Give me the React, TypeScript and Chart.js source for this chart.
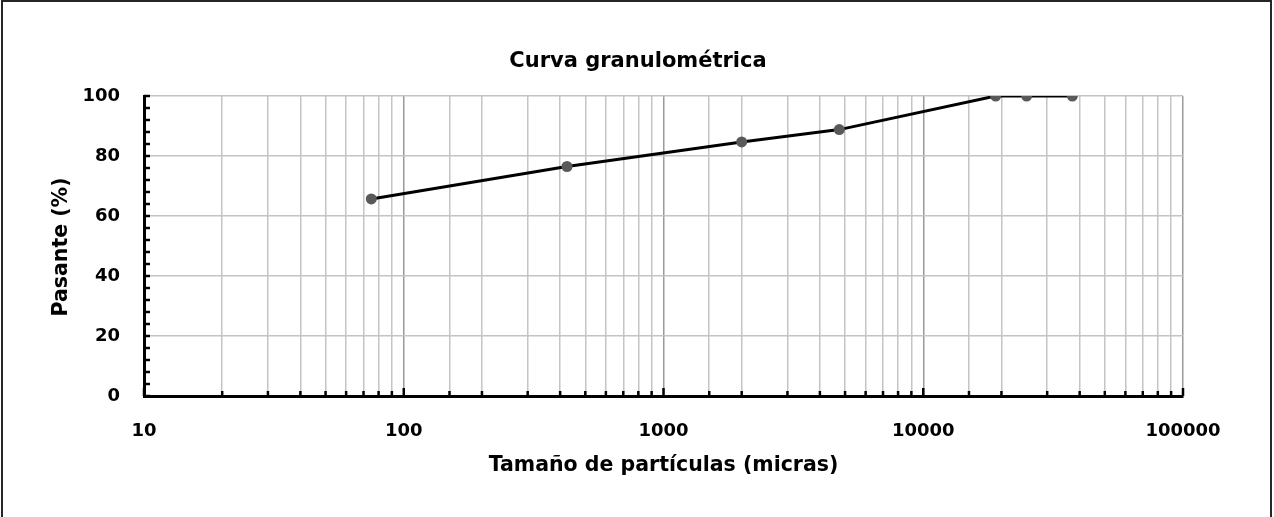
import React, { useEffect, useRef } from "react";
import { Chart, registerables } from "chart.js";

Chart.register(...registerables);

// ---- data ----
const sizes = [75, 425, 2000, 4750, 19000, 25000, 37500];
const passing = [65.7, 76.5, 84.7, 88.8, 100, 100, 100];
const xDecades = [10, 100, 1000, 10000, 100000];
const yTickValues = [0, 20, 40, 60, 80, 100];
const chartTitle = "Curva granulométrica";
const xAxisTitle = "Tamaño de partículas (micras)";
const yAxisTitle = "Pasante (%)";

const FONT = '"DejaVu Sans", Verdana, sans-serif';
const isDecade = (v: number) => xDecades.includes(Math.round(v));

const decorPlugin = {
  id: "decor",
  beforeDraw(chart: any) {
    const ctx = chart.ctx;
    ctx.save();
    ctx.fillStyle = "#ffffff";
    ctx.fillRect(0, 0, chart.width, chart.height);
    ctx.strokeStyle = "#262626";
    ctx.lineWidth = 2;
    ctx.strokeRect(2, 1, 1269, 540);
    ctx.restore();
  },
  afterDraw(chart: any) {
    const ctx = chart.ctx;
    const { left, right, bottom } = chart.chartArea;
    const xs = chart.scales.x;
    const ys = chart.scales.y;
    ctx.save();
    ctx.strokeStyle = "#000";
    ctx.lineWidth = 2.5;
    // y minor ticks (inside)
    for (let v = 0; v <= 100; v += 4) {
      const y = ys.getPixelForValue(v);
      ctx.beginPath();
      ctx.moveTo(left, y);
      ctx.lineTo(left + 6, y);
      ctx.stroke();
    }
    // x ticks (inside)
    xs.ticks.forEach((t: any) => {
      const x = xs.getPixelForValue(t.value);
      const len = isDecade(t.value) ? 8 : 5;
      ctx.beginPath();
      ctx.moveTo(x, bottom);
      ctx.lineTo(x, bottom - len);
      ctx.stroke();
    });
    // titles
    ctx.fillStyle = "#000";
    ctx.textAlign = "center";
    ctx.textBaseline = "middle";
    ctx.font = `bold 21px ${FONT}`;
    ctx.fillText(chartTitle, 638, 62);
    ctx.font = `bold 20.5px ${FONT}`;
    ctx.fillText(xAxisTitle, (left + right) / 2, 466);
    ctx.translate(62, 247);
    ctx.rotate(-Math.PI / 2);
    ctx.fillText(yAxisTitle, 0, 0);
    ctx.restore();
  },
};

export default function App() {
  const ref = useRef<HTMLCanvasElement | null>(null);

  useEffect(() => {
    if (!ref.current) return;
    const chart = new Chart(ref.current, {
      type: "line",
      data: {
        datasets: [
          {
            data: sizes.map((s, i) => ({ x: s, y: passing[i] })),
            borderColor: "#000",
            borderWidth: 3,
            pointRadius: 5.5,
            pointBackgroundColor: "#595959",
            pointBorderWidth: 0,
            pointBorderColor: "#595959",
            tension: 0,
            fill: false,
          },
        ],
      },
      options: {
        responsive: false,
        animation: false,
        layout: { padding: { left: 0, right: 91, top: 96, bottom: 0 } },
        plugins: {
          legend: { display: false },
          title: { display: false },
          tooltip: { enabled: false },
        },
        scales: {
          x: {
            type: "logarithmic",
            min: 10,
            max: 100000,
            grid: {
              color: (c: any) => (c.tick && isDecade(c.tick.value) ? "#9a9a9a" : "#c4c4c4"),
              lineWidth: 1.5,
              drawTicks: false,
            },
            border: { color: "#000", width: 3 },
            ticks: {
              autoSkip: false,
              maxRotation: 0,
              minRotation: 0,
              padding: 25,
              color: "#000",
              font: { family: FONT, size: 18, weight: "bold" },
              callback: (v: any) => (isDecade(Number(v)) ? String(Math.round(Number(v))) : ""),
            },
            afterFit: (s: any) => {
              s.height = 121;
            },
          },
          y: {
            min: 0,
            max: 100,
            afterBuildTicks: (s: any) => {
              s.ticks = yTickValues.map((v) => ({ value: v }));
            },
            grid: { color: "#c4c4c4", lineWidth: 1.5, drawTicks: false },
            border: { color: "#000", width: 3 },
            ticks: {
              padding: 24,
              color: "#000",
              font: { family: FONT, size: 18, weight: "bold" },
            },
            afterFit: (s: any) => {
              s.width = 144;
            },
          },
        },
      },
      plugins: [decorPlugin],
    });
    return () => chart.destroy();
  }, []);

  return (
    <div style={{ position: "absolute", left: 0, top: 0, width: 1274, height: 517, overflow: "hidden" }}>
      <canvas ref={ref} width={1274} height={517} style={{ display: "block" }} />
    </div>
  );
}
